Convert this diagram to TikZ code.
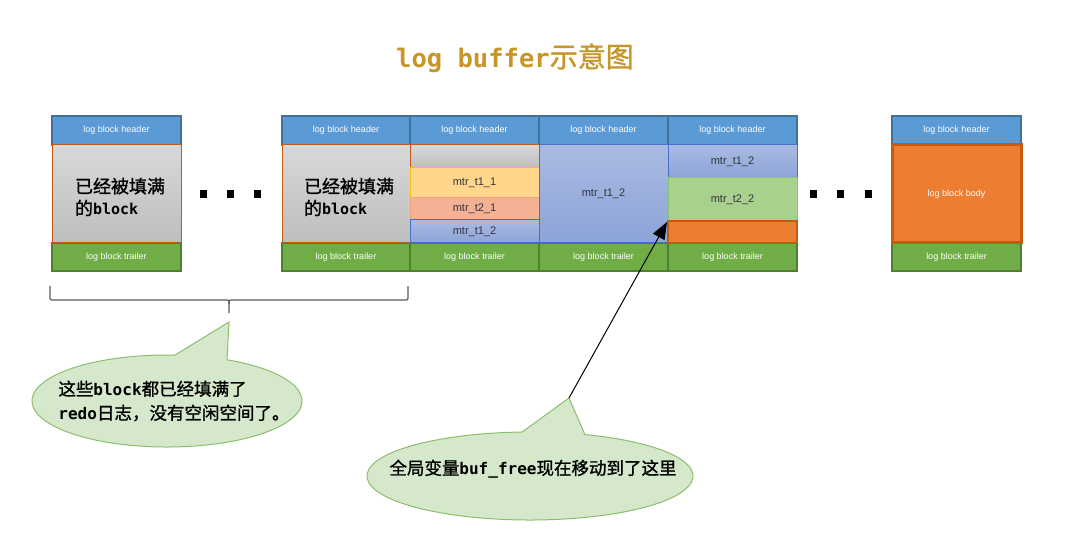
\documentclass[tikz,border=0pt]{standalone}
\usepackage{fontspec}
\setmainfont{Liberation Sans}
\newfontfamily\cjk{Noto Sans CJK SC}
\newfontfamily\cjkb{Noto Sans CJK SC}[FakeBold=1.2]
\newfontfamily\mono{DejaVu Sans Mono}
\usetikzlibrary{arrows.meta,calc}
\definecolor{hdrfill}{RGB}{91,155,213}
\definecolor{hdrline}{RGB}{65,113,156}
\definecolor{trlfill}{RGB}{112,173,71}
\definecolor{trlline}{RGB}{80,126,50}
\definecolor{bodyline}{RGB}{197,90,17}
\definecolor{graytop}{RGB}{216,216,216}
\definecolor{graybot}{RGB}{190,190,190}
\definecolor{yelfill}{RGB}{255,214,140}
\definecolor{yelline}{RGB}{255,192,0}
\definecolor{salfill}{RGB}{244,177,148}
\definecolor{salline}{RGB}{240,160,130}
\definecolor{bluetop}{RGB}{170,186,226}
\definecolor{bluebot}{RGB}{140,164,216}
\definecolor{blueline}{RGB}{68,114,196}
\definecolor{grnfill}{RGB}{169,209,142}
\definecolor{grnline}{RGB}{140,195,110}
\definecolor{orgfill}{RGB}{237,125,49}
\definecolor{titlecol}{RGB}{200,150,40}
\definecolor{callfill}{RGB}{213,232,204}
\definecolor{callline}{RGB}{140,190,110}
\definecolor{bracecol}{RGB}{90,90,90}
\begin{document}
\begin{tikzpicture}[x=1pt,y=-1pt,
  cell/.style={anchor=north west, inner sep=0pt, outer sep=0pt},
  hdr/.style={cell, fill=hdrfill, draw=hdrline, line width=2pt, text=white,
    minimum height=29pt, font=\fontsize{9}{10}\selectfont},
  trl/.style={cell, fill=trlfill, draw=trlline, line width=2pt, text=white,
    minimum height=28pt, font=\fontsize{9}{10}\selectfont},
  graybody/.style={cell, top color=graytop, bottom color=graybot, draw=bodyline, line width=1pt},
  mtr/.style={cell, line width=1pt, text={rgb,255:red,50;green,50;blue,60}, font=\fontsize{11}{12}\selectfont},
  bluecell/.style={mtr, top color=bluetop, bottom color=bluebot, draw=blueline},
  bigtext/.style={align=left, font=\cjkb\fontsize{18}{22}\selectfont},
  dotsq/.style={fill=black, inner sep=0pt, minimum width=7pt, minimum height=8pt},
  callout/.style={fill=callfill, draw=callline, line width=1pt},
  calltext/.style={align=left, font=\cjkb\fontsize{17.5}{24}\selectfont},
  bracestyle/.style={draw=bracecol, line width=1.2pt},
  pointer/.style={draw=black, line width=1pt, -{Triangle[length=17pt,width=13pt]}}
]
\fill[white] (0,0) rectangle (1078,553);
\useasboundingbox (0,0) rectangle (1078,553);

% title
\node[text=titlecol] (title) at (515,58)
  {{\mono\bfseries\fontsize{25.5}{30}\selectfont log buffer}{\cjkb\fontsize{28}{30}\selectfont 示意图}};

% headers
\node[hdr, minimum width=129pt] (h1) at (52,116) {log block header};
\node[hdr, minimum width=128pt] (h2) at (282,116) {log block header};
\node[hdr, minimum width=129pt] (h3) at (410,116) {log block header};
\node[hdr, minimum width=129pt] (h4) at (539,116) {log block header};
\node[hdr, minimum width=129pt] (h5) at (668,116) {log block header};
\node[hdr, minimum width=129pt] (h6) at (892,116) {log block header};

% trailers
\node[trl, minimum width=129pt] (r1) at (52,243) {log block trailer};
\node[trl, minimum width=128pt] (r2) at (282,243) {log block trailer};
\node[trl, minimum width=129pt] (r3) at (410,243) {log block trailer};
\node[trl, minimum width=129pt] (r4) at (539,243) {log block trailer};
\node[trl, minimum width=129pt] (r5) at (668,243) {log block trailer};
\node[trl, minimum width=129pt] (r6) at (892,243) {log block trailer};

% full blocks
\node[graybody, minimum width=129pt, minimum height=98pt] (b1) at (52,145) {};
\node[bigtext] (b1t) at (120,197) {已经被填满\\的{\mono\bfseries\fontsize{15}{22}\selectfont block}};
\node[graybody, minimum width=128pt, minimum height=98pt] (b2) at (282,145) {};
\node[bigtext] (b2t) at (349,197) {已经被填满\\的{\mono\bfseries\fontsize{15}{22}\selectfont block}};

% column 2
\node[graybody, minimum width=129pt, minimum height=23pt] (g3) at (410,145) {};
\node[mtr, fill=yelfill, draw=yelline, minimum width=129pt, minimum height=30pt] (m11) at (410,168) {mtr\_t1\_1};
\node[mtr, fill=salfill, draw=salline, minimum width=129pt, minimum height=22pt] (m21) at (410,198) {mtr\_t2\_1};
\node[bluecell, minimum width=129pt, minimum height=23pt] (m12a) at (410,220) {mtr\_t1\_2};

% column 3
\node[bluecell, minimum width=129pt, minimum height=98pt] (m12b) at (539,145) {mtr\_t1\_2};

% column 4
\node[bluecell, minimum width=129pt, minimum height=33pt] (m12c) at (668,145) {mtr\_t1\_2};
\node[mtr, fill=grnfill, draw=grnline, minimum width=129pt, minimum height=43pt] (m22) at (668,178) {mtr\_t2\_2};
\node[cell, fill=orgfill, draw=bodyline, line width=1.5pt, minimum width=129pt, minimum height=22pt] (free) at (668,221) {};

% last block
\node[cell, fill=orgfill, draw=bodyline, line width=3pt, minimum width=129pt, minimum height=98pt,
  text=white, font=\fontsize{9}{10}\selectfont] (b6) at (892,145) {log block body};

% dots
\node[dotsq] (d1) at (203,194) {};
\node[dotsq] (d2) at (230,194) {};
\node[dotsq] (d3) at (257,194) {};
\node[dotsq] (d4) at (813,194) {};
\node[dotsq] (d5) at (840,194) {};
\node[dotsq] (d6) at (868,194) {};

% brace
\coordinate (brL) at (50,286);
\coordinate (brR) at (408,286);
\coordinate (brM) at (229,313);
\draw[bracestyle] (brL) -- (50,296) .. controls (50,300) .. (54,300) -- (225,300)
  .. controls (229,300) .. (229,304) -- (brM);
\draw[bracestyle] (229,304) .. controls (229,300) .. (233,300) -- (404,300)
  .. controls (408,300) .. (408,296) -- (brR);

% callout 1
\coordinate (c1) at (167,401);
\coordinate (tip1) at (229,322);
\draw[callout] ($(c1)+(-63.6:135 and 46)$) arc[start angle=-63.6, end angle=273.4, x radius=135, y radius=46]
  -- (tip1) -- cycle;
\node[calltext] (t1) at (174,401) {这些{\mono\bfseries\fontsize{16}{24}\selectfont block}都已经填满了\\{\mono\bfseries\fontsize{16}{24}\selectfont redo}日志，没有空闲空间了。};

% callout 2
\coordinate (c2) at (530,476);
\coordinate (tip2) at (569,398);
\draw[callout] ($(c2)+(-70.3:163 and 44)$) arc[start angle=-70.3, end angle=267.2, x radius=163, y radius=44]
  -- (tip2) -- cycle;
\node[calltext] (t2) at (533,469) {全局变量{\mono\bfseries\fontsize{16}{24}\selectfont buf\_free}现在移动到了这里};

% pointer
\coordinate (freept) at (667,222);
\draw[pointer] (tip2) -- (freept);
\end{tikzpicture}
\end{document}
